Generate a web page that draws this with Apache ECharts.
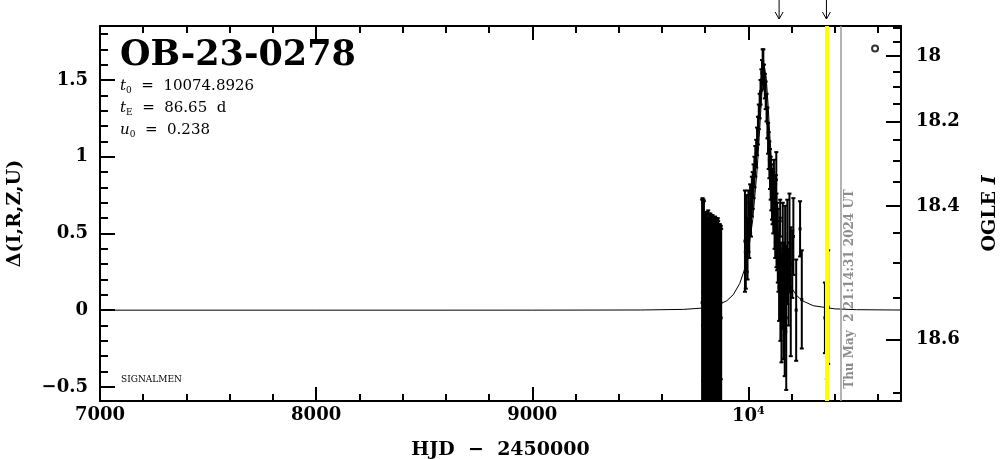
<!DOCTYPE html>
<html><head><meta charset="utf-8">
<script src="https://cdn.jsdelivr.net/npm/echarts@6/dist/echarts.min.js"></script>
<style>html,body{margin:0;padding:0;background:#fff}#c{width:1004px;height:459px}</style>
</head><body><div id="c"></div>
<script>
// ---------------- data ----------------
const X_MIN = 7000, X_MAX = 10706;
const Y_MIN = -0.592, Y_MAX = 1.852;
const xMajorTicks = [7000, 8000, 9000, 10000];
const yMajorTicks = [-0.5, 0, 0.5, 1, 1.5];
const ogleMajorTicks = [18, 18.2, 18.4, 18.6];
const ogleMinorTicks = [17.9, 17.95, 18.05, 18.1, 18.15, 18.25, 18.3, 18.35, 18.45, 18.5, 18.55, 18.65];
const OGLE_BASE = 18.566, OGLE_FS = 0.1904;   // OGLE I baseline and source fraction (axis conversion)

// model light curve
const modelT = [7000, 8000, 9000, 9500, 9700, 9800, 9850, 9900, 9930, 9960, 9980, 10000, 10020, 10040, 10050, 10060, 10068, 10075, 10082, 10090, 10100, 10110, 10130, 10150, 10170, 10200, 10223, 10250, 10300, 10400, 10500, 10706];
const modelD = [0, 0, 0.0001, 0.0011, 0.0051, 0.015, 0.029, 0.061, 0.101, 0.174, 0.257, 0.386, 0.589, 0.909, 1.125, 1.365, 1.527, 1.581, 1.52, 1.36, 1.12, 0.905, 0.587, 0.384, 0.255, 0.144, 0.096, 0.061, 0.029, 0.0084, 0.0032, 0.0008];

// observations: time, delta, error
const obsT = [9786, 9788, 9790, 9792, 9794, 9796, 9798, 9800, 9802, 9804, 9806, 9808, 9810, 9812, 9814, 9816, 9818, 9820, 9822, 9824, 9826, 9828, 9830, 9832, 9834, 9836, 9838, 9840, 9842, 9844, 9846, 9848, 9850, 9852, 9854, 9856, 9858, 9860, 9862, 9864, 9866, 9868, 9870, 9872, 9874,
  9984, 9988, 9992, 9996, 10000, 10004, 10008, 10012, 10016, 10020, 10024, 10028, 10032, 10036, 10040, 10044, 10048, 10052, 10056, 10060, 10063, 10066,
  10069, 10072, 10076, 10080, 10084, 10088, 10091, 10094, 10097, 10100, 10103, 10106, 10109, 10112, 10115, 10118, 10121, 10124, 10127, 10129, 10130, 10133, 10136,
  10139, 10142, 10145, 10147, 10148, 10150, 10153, 10156, 10159, 10162, 10165, 10168, 10170, 10171, 10175, 10180, 10186, 10190, 10196, 10203, 10208, 10221, 10239, 10247,
  10354, 10363, 10369];
const obsD = [0.05, -0.10, 0.12, -0.20, 0.02, -0.06, 0.10, -0.15, 0.00, -0.30, 0.05, -0.08, 0.15, -0.22, 0.03, -0.12, 0.08, -0.35, 0.00, -0.05, 0.20, -0.18, 0.06, -0.25, 0.02, -0.10, 0.12, -0.40, 0.00, -0.08, 0.05, -0.30, 0.10, -0.02, -0.15, 0.04, -0.20, 0.00, -0.10, 0.08, -0.25, 0.00, -0.12, 0.05, -0.05,
  0.45, 0.26, 0.50, 0.40, 0.58, 0.52, 0.66, 0.62, 0.74, 0.78, 0.84, 0.90, 0.97, 1.02, 1.10, 1.17, 1.26, 1.33, 1.42, 1.50, 1.55, 1.62,
  1.60, 1.52, 1.46, 1.40, 1.32, 1.22, 1.12, 1.04, 0.98, 0.92, 0.86, 0.80, 0.75, 0.74, 0.70, 0.78, 0.62, 0.58, 0.66, 0.85, 0.52, 0.48, 0.42,
  0.30, 0.15, 0.38, 0.60, 0.05, 0.22, -0.08, 0.12, 0.40, -0.02, 0.18, -0.15, 0.28, 0.08, -0.05, 0.38, 0.15, 0.44, 0.12, 0.30, 0.48, 0.00, 0.53, 0.07,
  -0.05, -0.80, 0.02];
const obsE = [0.67, 0.83, 0.58, 0.92, 0.69, 0.70, 0.52, 0.75, 0.64, 0.85, 0.58, 0.66, 0.45, 0.80, 0.62, 0.72, 0.55, 0.90, 0.62, 0.68, 0.40, 0.78, 0.56, 0.85, 0.60, 0.70, 0.48, 0.95, 0.60, 0.66, 0.56, 0.88, 0.50, 0.62, 0.73, 0.55, 0.80, 0.58, 0.65, 0.48, 0.80, 0.56, 0.66, 0.50, 0.58,
  0.33, 0.12, 0.25, 0.20, 0.20, 0.18, 0.16, 0.14, 0.13, 0.12, 0.11, 0.10, 0.10, 0.09, 0.09, 0.09, 0.08, 0.08, 0.08, 0.07, 0.08, 0.08,
  0.10, 0.08, 0.08, 0.09, 0.09, 0.10, 0.10, 0.12, 0.12, 0.13, 0.14, 0.15, 0.16, 0.18, 0.20, 0.20, 0.22, 0.24, 0.22, 0.18, 0.24, 0.22, 0.24,
  0.18, 0.22, 0.20, 0.12, 0.25, 0.22, 0.26, 0.24, 0.30, 0.30, 0.26, 0.28, 0.40, 0.22, 0.47, 0.34, 0.25, 0.32, 0.42, 0.22, 0.25, 0.33, 0.18, 0.32,
  0.23, 0.35, 0.37];

const arrowT = [10142, 10361];
const yellowT = 10361, grayT = 10429;
const ogleSymbol = [[10586, 1.706]];

// ---------------- helpers ----------------
const FONT = 'DejaVu Serif';
const xMinorTicks = []; for (let v = X_MIN; v <= X_MAX; v += 200) if (v % 1000) xMinorTicks.push(v);
const yMinorTicks = []; for (let i = -5; i <= 18; i++) if (i % 5) yMinorTicks.push(i / 10);
function mag2delta(m) { return 2.5 * Math.log10((Math.pow(10, -0.4 * (m - OGLE_BASE)) - (1 - OGLE_FS)) / OGLE_FS); }
function delta2mag(d) { return OGLE_BASE - 2.5 * Math.log10(OGLE_FS * Math.pow(10, 0.4 * d) + 1 - OGLE_FS); }
const ogleMajorPos = ogleMajorTicks.map(mag2delta);
const ogleMinorPos = ogleMinorTicks.map(mag2delta);
const obsData = obsT.map((t, i) => [t, obsD[i], obsE[i]]);
const modelData = modelT.map((t, i) => [t, modelD[i]]);

const lab = { color: '#000', fontFamily: FONT, fontWeight: 'bold', fontSize: 18 };
const tickStyle = { color: '#000', width: 2 };
function xAx(pos, major, labels) {
  return {
    type: 'value', min: X_MIN, max: X_MAX, position: pos, splitLine: { show: false },
    axisLine: { show: major, onZero: false, lineStyle: { color: '#000', width: 2 } },
    axisTick: { show: true, inside: true, length: major ? 14 : 7, lineStyle: tickStyle, customValues: major ? xMajorTicks : xMinorTicks },
    axisLabel: labels ? Object.assign({
      show: true, margin: 5, customValues: xMajorTicks,
      formatter: v => v === 10000 ? '{a|10}{s|4}' : String(v),
      rich: { a: { fontFamily: FONT, fontWeight: 'bold', fontSize: 18, lineHeight: 20, color: '#000' },
              s: { fontFamily: FONT, fontWeight: 'bold', fontSize: 11, lineHeight: 10, verticalAlign: 'top', color: '#000' } }
    }, lab) : { show: false }
  };
}
function yAx(pos, major, kind) {
  const o = {
    type: 'value', min: Y_MIN, max: Y_MAX, position: pos, splitLine: { show: false },
    axisLine: { show: major, onZero: false, lineStyle: { color: '#000', width: 2 } },
    axisTick: { show: true, inside: true, length: major ? 15 : 8, lineStyle: tickStyle },
    axisLabel: { show: false }
  };
  if (kind === 'left') {
    o.axisTick.customValues = major ? yMajorTicks : yMinorTicks;
    if (major) {
      o.axisLabel = Object.assign({ show: true, margin: 12, customValues: yMajorTicks,
        formatter: v => v < 0 ? '\u2212' + Math.abs(v) : String(v) }, lab);
      o.name = '\u0394(I,R,Z,U)'; o.nameLocation = 'middle'; o.nameRotate = 90; o.nameGap = 75;
      o.nameTextStyle = { color: '#000', fontFamily: FONT, fontWeight: 'bold', fontSize: 19 };
    }
  } else {
    o.axisTick.customValues = major ? ogleMajorPos : ogleMinorPos;
    if (major) {
      o.axisLabel = Object.assign({ show: true, margin: 15, customValues: ogleMajorPos,
        formatter: v => String(parseFloat(delta2mag(v).toFixed(2))) }, lab);
      o.name = 'OGLE {i|I}'; o.nameLocation = 'middle'; o.nameRotate = 90; o.nameGap = 80;
      o.nameTextStyle = { color: '#000', fontFamily: FONT, fontWeight: 'bold', fontSize: 19,
        rich: { i: { fontFamily: FONT, fontWeight: 'bold', fontStyle: 'italic', fontSize: 19, color: '#000' } } };
    }
  }
  return o;
}

const chart = echarts.init(document.getElementById('c'), null, { renderer: 'canvas' });
const xA = xAx('bottom', true, true);
xA.name = 'HJD  \u2212  2450000'; xA.nameLocation = 'middle'; xA.nameGap = 40;
xA.nameTextStyle = { color: '#000', fontFamily: FONT, fontWeight: 'bold', fontSize: 19 };

const subRich = {
  i: { fontFamily: FONT, fontStyle: 'italic', fontSize: 15, lineHeight: 18, fill: '#000' },
  s: { fontFamily: FONT, fontSize: 9, lineHeight: 10, verticalAlign: 'bottom', fill: '#000' },
  n: { fontFamily: FONT, fontSize: 15, lineHeight: 18, fill: '#000' }
};
chart.setOption({
  animation: false,
  backgroundColor: '#fff',
  grid: { left: 100, right: 103, top: 26, bottom: 58, containLabel: false, outerBoundsMode: 'none' },
  xAxis: [xA, xAx('bottom', false, false), xAx('top', true, false), xAx('top', false, false)],
  yAxis: [yAx('left', true, 'left'), yAx('left', false, 'left'), yAx('right', true, 'right'), yAx('right', false, 'right')],
  graphic: [
    { type: 'text', left: 120, top: 38, style: { text: 'OB-23-0278', fontFamily: FONT, fontWeight: 'bold', fontSize: 35, fill: '#000' } },
    { type: 'text', left: 120, top: 79, style: { text: '{i|t}{s|0}{n|  =  10074.8926}', rich: subRich } },
    { type: 'text', left: 120, top: 101, style: { text: '{i|t}{s|E}{n|  =  86.65  d}', rich: subRich } },
    { type: 'text', left: 120, top: 123, style: { text: '{i|u}{s|0}{n|  =  0.238}', rich: subRich } },
    { type: 'text', left: 121, top: 375, style: { text: 'SIGNALMEN', fontFamily: FONT, fontSize: 9, fill: '#000' } },
    { type: 'text', x: 850, y: 289, rotation: Math.PI / 2, style: { text: 'Thu May  2 21:14:31 2024 UT', fontFamily: FONT, fontWeight: 'bold', fontSize: 12, fill: '#8c8c8c', align: 'center', verticalAlign: 'middle' } }
  ],
  series: [
    {
      type: 'custom', name: 'obs', clip: true, z: 2, data: obsData, encode: { x: 0, y: 1 },
      renderItem(params, api) {
        const t = api.value(0), v = api.value(1), e = api.value(2);
        const lo = api.coord([t, v - e]), hi = api.coord([t, v + e]), c = api.coord([t, v]);
        const st = { stroke: '#000', lineWidth: 2 };
        return { type: 'group', children: [
          { type: 'line', shape: { x1: lo[0], y1: lo[1], x2: hi[0], y2: hi[1] }, style: st },
          { type: 'line', shape: { x1: lo[0] - 2, y1: lo[1], x2: lo[0] + 2, y2: lo[1] }, style: st },
          { type: 'line', shape: { x1: hi[0] - 2, y1: hi[1], x2: hi[0] + 2, y2: hi[1] }, style: st },
          { type: 'rect', shape: { x: c[0] - 1.5, y: c[1] - 1.5, width: 3, height: 3 }, style: { fill: '#000' } }
        ] };
      }
    },
    {
      type: 'line', name: 'model', data: modelData, symbol: 'none', showSymbol: false, clip: true, z: 4,
      lineStyle: { color: '#000', width: 1 },
      markLine: { silent: true, symbol: ['none', 'none'], label: { show: false }, animation: false,
        data: [ { xAxis: yellowT, lineStyle: { color: '#ffff00', width: 4, type: 'solid' } },
                { xAxis: grayT, lineStyle: { color: '#9a9a9a', width: 1.5, type: 'solid' } } ] }
    },
    {
      type: 'scatter', name: 'OGLE', data: ogleSymbol, symbol: 'emptyCircle', symbolSize: 6, z: 5,
      itemStyle: { color: '#000', borderColor: '#000', borderWidth: 2 }
    },
    {
      type: 'custom', name: 'arrows', clip: false, z: 5, data: arrowT.map(t => [t, Y_MAX]), encode: { x: 0, y: 1 },
      renderItem(params, api) {
        const p = api.coord([api.value(0), api.value(1)]);
        const st = { stroke: '#000', lineWidth: 1, fill: 'none' };
        return { type: 'group', children: [
          { type: 'line', shape: { x1: p[0], y1: p[1] - 26, x2: p[0], y2: p[1] - 7 }, style: st },
          { type: 'polyline', shape: { points: [[p[0] - 4, p[1] - 14], [p[0], p[1] - 7], [p[0] + 4, p[1] - 14]] }, style: st }
        ] };
      }
    }
  ]
});
</script></body></html>
